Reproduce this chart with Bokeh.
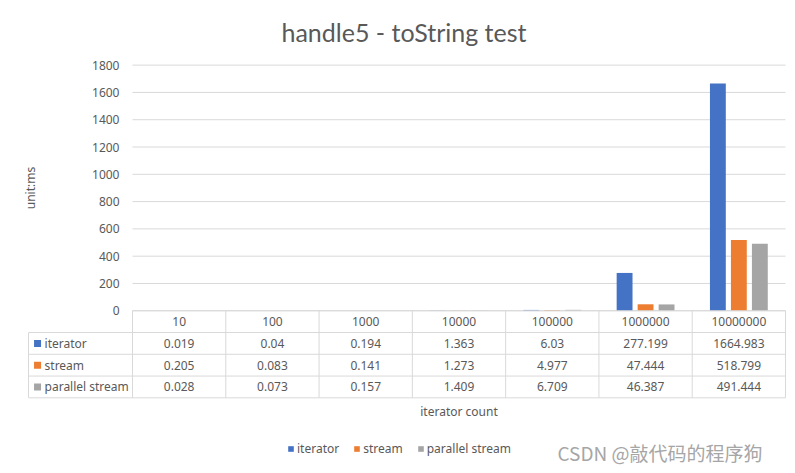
from bokeh.plotting import figure
from bokeh.models import (Range1d, LinearAxis, FixedTicker, Legend, LegendItem)
from bokeh.core.properties import value
from bokeh.embed import file_html
from bokeh.resources import INLINE

# ---- data ----
categories = ["10", "100", "1000", "10000", "100000", "1000000", "10000000"]
series_names = ["iterator", "stream", "parallel stream"]
iterator_ms = [0.019, 0.04, 0.194, 1.363, 6.03, 277.199, 1664.983]
stream_ms = [0.205, 0.083, 0.141, 1.273, 4.977, 47.444, 518.799]
parallel_ms = [0.028, 0.073, 0.157, 1.409, 6.709, 46.387, 491.444]
iterator_txt = ["0.019", "0.04", "0.194", "1.363", "6.03", "277.199", "1664.983"]
stream_txt = ["0.205", "0.083", "0.141", "1.273", "4.977", "47.444", "518.799"]
parallel_txt = ["0.028", "0.073", "0.157", "1.409", "6.709", "46.387", "491.444"]
y_ticks = [0, 200, 400, 600, 800, 1000, 1200, 1400, 1600, 1800]

colors = ["#4472C4", "#ED7D31", "#A5A5A5"]
series_vals = [iterator_ms, stream_ms, parallel_ms]
series_txt = [iterator_txt, stream_txt, parallel_txt]
TXT = "#595959"
GRID = "#D9D9D9"
FONT = "Noto Sans"

n = len(categories)
label_col = 1.1148   # width of the row-label column, in category units
bar_w = 0.17
offsets = [-0.225, 0.0, 0.225]

p = figure(width=787, height=465, output_backend="svg", toolbar_location=None,
           x_axis_location=None, y_axis_location=None,
           x_range=Range1d(-1.2006, n + 0.0214), y_range=Range1d(-1134, 1834),
           min_border_left=20, min_border_right=0, min_border_top=58,
           min_border_bottom=0, outline_line_color=None,
           title="handle5 - toString test")
p.extra_y_ranges = {"table": Range1d(-7.109, 11.497)}
p.xgrid.visible = False
p.ygrid.visible = False
p.title.align = "center"
p.title.text_font = "Lato"
p.title.text_font_size = "25px"
p.title.text_font_style = "normal"
p.title.text_color = TXT
p.title.standoff = 28

# grid lines
p.segment(x0=[0] * len(y_ticks), x1=[n] * len(y_ticks), y0=y_ticks, y1=y_ticks,
          line_color=GRID, line_width=1)

# bars
renderers = []
for k, (vals, col) in enumerate(zip(series_vals, colors)):
    xs = [i + 0.5 + offsets[k] for i in range(n)]
    r = p.vbar(x=xs, top=vals, bottom=0, width=bar_w, fill_color=col, line_color=None)
    renderers.append(r)

# y axis (values) drawn at x = 0
yax = LinearAxis(fixed_location=0, ticker=FixedTicker(ticks=y_ticks), bounds=(0, 1800),
                 axis_line_color=None, major_tick_line_color=None, minor_tick_line_color=None,
                 major_tick_out=0, major_tick_in=0,
                 major_label_standoff=13, major_label_text_font=FONT,
                 major_label_text_font_size="12px", major_label_text_color=TXT,
                 axis_label="unit:ms", axis_label_text_font=FONT,
                 axis_label_text_font_size="12px", axis_label_text_font_style="normal",
                 axis_label_text_color=TXT, axis_label_standoff=50)
p.add_layout(yax, "left")

# ---- data table ----
rows = len(series_names)
h_y = [0] + [-(r + 1) for r in range(rows + 1)]
h_x0 = [0] + [-label_col] * (rows + 1)
h_x1 = [n] * (rows + 2)
p.segment(x0=h_x0, x1=h_x1, y0=h_y, y1=h_y, line_color=GRID, line_width=1,
          y_range_name="table")
v_x = [-label_col] + list(range(n + 1))
v_y0 = [-1] + [0] * (n + 1)
v_y1 = [-(rows + 1)] * (n + 2)
p.segment(x0=v_x, x1=v_x, y0=v_y0, y1=v_y1, line_color=GRID, line_width=1,
          y_range_name="table")

p.text(x=[i + 0.5 for i in range(n)], y=[-0.5] * n, text=categories,
       text_align="center", text_baseline="middle", text_font=value(FONT),
       text_font_size="12px", text_color=TXT, y_range_name="table")
for r in range(rows):
    p.text(x=[i + 0.5 for i in range(n)], y=[-1.5 - r] * n, text=series_txt[r],
           text_align="center", text_baseline="middle", text_font=value(FONT),
           text_font_size="12px", text_color=TXT, y_range_name="table")
p.scatter(x=[-label_col + 0.097] * rows, y=[-1.5 - r for r in range(rows)],
          marker="square", size=7, fill_color=colors, line_color=None,
          y_range_name="table")
p.text(x=[-label_col + 0.172] * rows, y=[-1.5 - r for r in range(rows)],
       text=series_names, text_align="left", text_baseline="middle",
       text_font=value(FONT), text_font_size="12px", text_color=TXT,
       y_range_name="table")

# x axis title under the table
xax = LinearAxis(y_range_name="table", fixed_location=-(rows + 1), bounds=(0, n),
                 ticker=FixedTicker(ticks=[]), axis_line_color=None,
                 major_tick_line_color=None, minor_tick_line_color=None,
                 major_tick_out=0, major_tick_in=0,
                 major_label_text_font_size="0px", major_label_standoff=0,
                 axis_label="iterator count", axis_label_text_font=FONT,
                 axis_label_text_font_size="12px", axis_label_text_font_style="normal",
                 axis_label_text_color=TXT, axis_label_standoff=5)
p.add_layout(xax, "below")

# legend
legend = Legend(items=[LegendItem(label=nm, renderers=[r]) for nm, r in zip(series_names, renderers)],
                orientation="horizontal", location=(267, 8), padding=0, margin=0,
                spacing=14, label_standoff=3, glyph_width=7, glyph_height=7,
                label_height=12, label_text_font=FONT, label_text_font_size="12px",
                label_text_color=TXT, background_fill_alpha=0, border_line_color=None)
p.add_layout(legend, "center")

# watermark
p.text(x=[4.556], y=[-6.5], text=["CSDN @敲代码的程序狗"], text_align="left",
       text_baseline="middle", text_font=value("Noto Sans CJK SC"),
       text_font_size="19px", text_color="#A6A6A6", y_range_name="table")

open("out.html", "w").write(file_html(p, INLINE))
